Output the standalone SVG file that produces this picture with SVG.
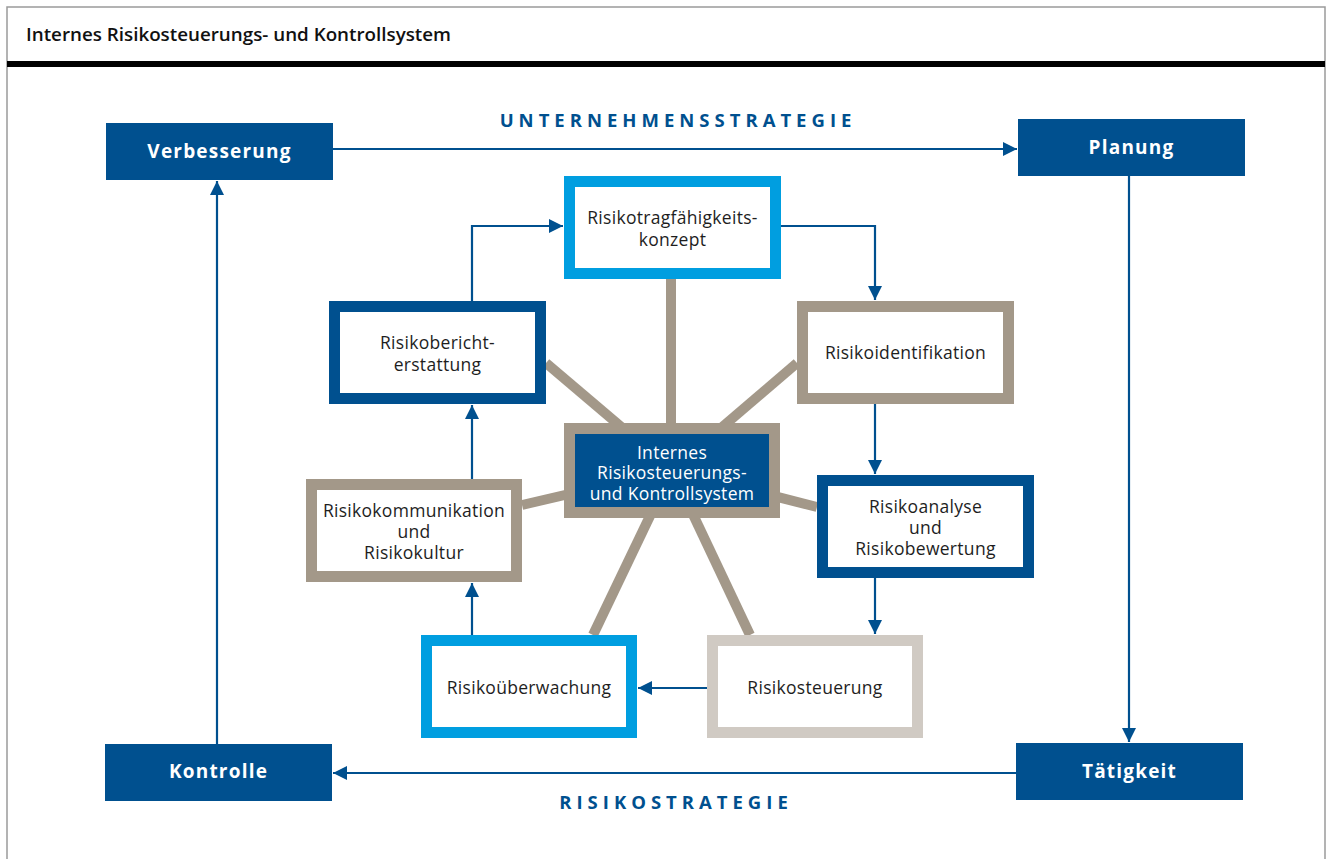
<svg xmlns="http://www.w3.org/2000/svg" width="1330" height="859" viewBox="0 0 1330 859">
<defs>
<marker id="ah" markerUnits="userSpaceOnUse" markerWidth="16" markerHeight="14" refX="14" refY="7" orient="auto">
<path d="M0,0 L14,7 L0,14 Z" fill="#00508f"/>
</marker>
<style>
.frame{fill:#fff;stroke:#9a9a9a;stroke-width:1.5}
.conn{fill:none;stroke:#00508f;stroke-width:2.2}
.spoke{stroke:#a39889;stroke-width:10;stroke-linecap:butt}
.solid{fill:#00508f}
.wl{font-family:"Open Sans","Noto Sans",sans-serif;font-weight:700;font-size:19px;fill:#fff;text-anchor:middle;letter-spacing:1.2px}
.lbl{font-family:"Open Sans","Noto Sans",sans-serif;font-size:17.5px;fill:#1e1e1e;text-anchor:middle;letter-spacing:0.3px}
.strat{font-family:"Open Sans","Noto Sans",sans-serif;font-weight:700;font-size:18.5px;fill:#00508f;text-anchor:middle;letter-spacing:5px}
.dk{fill:#fff;stroke:#00508f;stroke-width:11}
.lb{fill:#fff;stroke:#009ee0;stroke-width:11}
.tp{fill:#fff;stroke:#a39889;stroke-width:11}
.lg{fill:#fff;stroke:#d0cac3;stroke-width:11}
</style>
</defs>
<rect class="frame" x="7" y="7" width="1318" height="870"/>
<rect x="7" y="61" width="1318" height="6" fill="#000"/>
<text x="26" y="41" font-family="Open Sans, Noto Sans, sans-serif" font-weight="600" font-size="18.8" fill="#111">Internes Risikosteuerungs- und Kontrollsystem</text>

<text class="strat" x="678" y="127">UNTERNEHMENSSTRATEGIE</text>
<text class="strat" x="676" y="809">RISIKOSTRATEGIE</text>

<g id="spokes">
<line class="spoke" x1="671" y1="279" x2="671" y2="430"/>
<line class="spoke" x1="672" y1="470" x2="546" y2="363"/>
<line class="spoke" x1="672" y1="470" x2="797" y2="363"/>
<line class="spoke" x1="672" y1="470" x2="522" y2="505"/>
<line class="spoke" x1="672" y1="470" x2="817" y2="507"/>
<line class="spoke" x1="672" y1="470" x2="593" y2="635"/>
<line class="spoke" x1="672" y1="470" x2="750" y2="635"/>
</g>

<g id="connectors">
<line class="conn" x1="333" y1="149" x2="1017" y2="149" marker-end="url(#ah)"/>
<line class="conn" x1="1129" y1="176" x2="1129" y2="742" marker-end="url(#ah)"/>
<line class="conn" x1="1016" y1="773" x2="333" y2="773" marker-end="url(#ah)"/>
<line class="conn" x1="217" y1="744" x2="217" y2="181" marker-end="url(#ah)"/>
<polyline class="conn" points="472,301 472,226 563,226" marker-end="url(#ah)"/>
<polyline class="conn" points="781,226 875,226 875,300" marker-end="url(#ah)"/>
<line class="conn" x1="875" y1="404" x2="875" y2="474" marker-end="url(#ah)"/>
<line class="conn" x1="875" y1="578" x2="875" y2="634" marker-end="url(#ah)"/>
<line class="conn" x1="707" y1="688" x2="638" y2="688" marker-end="url(#ah)"/>
<line class="conn" x1="472" y1="635" x2="472" y2="583" marker-end="url(#ah)"/>
<line class="conn" x1="472" y1="479" x2="472" y2="405" marker-end="url(#ah)"/>
</g>

<g id="verbesserung"><rect class="solid" x="106" y="123" width="227" height="57"/><text class="wl" x="219.5" y="158">Verbesserung</text></g>
<g id="planung"><rect class="solid" x="1018" y="119" width="227" height="57"/><text class="wl" x="1131.5" y="154">Planung</text></g>
<g id="kontrolle"><rect class="solid" x="105" y="744" width="227" height="57"/><text class="wl" x="218.5" y="778">Kontrolle</text></g>
<g id="taetigkeit"><rect class="solid" x="1016" y="743" width="227" height="57"/><text class="wl" x="1129.5" y="778">Tätigkeit</text></g>

<g id="risikotragfaehigkeit"><rect class="lb" x="569.5" y="181.5" width="206" height="92"/><text class="lbl" x="672.5" y="224">Risikotragfähigkeits-</text><text class="lbl" x="672.5" y="246">konzept</text></g>
<g id="risikoberichterstattung"><rect class="dk" x="334.5" y="306.5" width="206" height="92"/><text class="lbl" x="437.5" y="349">Risikobericht-</text><text class="lbl" x="437.5" y="371">erstattung</text></g>
<g id="risikoidentifikation"><rect class="tp" x="802.5" y="306.5" width="206" height="92"/><text class="lbl" x="905.5" y="359">Risikoidentifikation</text></g>
<g id="zentrum"><rect x="569.5" y="428.5" width="205" height="84" fill="#00508f" stroke="#a39889" stroke-width="11"/><text class="lbl" x="672" y="459" style="fill:#fff">Internes</text><text class="lbl" x="672" y="479" style="fill:#fff">Risikosteuerungs-</text><text class="lbl" x="672" y="500" style="fill:#fff">und Kontrollsystem</text></g>
<g id="risikokommunikation"><rect class="tp" x="311.5" y="484.5" width="205" height="92"/><text class="lbl" x="414" y="517">Risikokommunikation</text><text class="lbl" x="414" y="538">und</text><text class="lbl" x="414" y="559">Risikokultur</text></g>
<g id="risikoanalyse"><rect class="dk" x="822.5" y="480.5" width="206" height="92"/><text class="lbl" x="925.5" y="513">Risikoanalyse</text><text class="lbl" x="925.5" y="534">und</text><text class="lbl" x="925.5" y="555">Risikobewertung</text></g>
<g id="risikoueberwachung"><rect class="lb" x="426.5" y="640.5" width="205" height="92"/><text class="lbl" x="529" y="694">Risikoüberwachung</text></g>
<g id="risikosteuerung"><rect class="lg" x="712.5" y="640.5" width="205" height="92"/><text class="lbl" x="815" y="694">Risikosteuerung</text></g>
</svg>
